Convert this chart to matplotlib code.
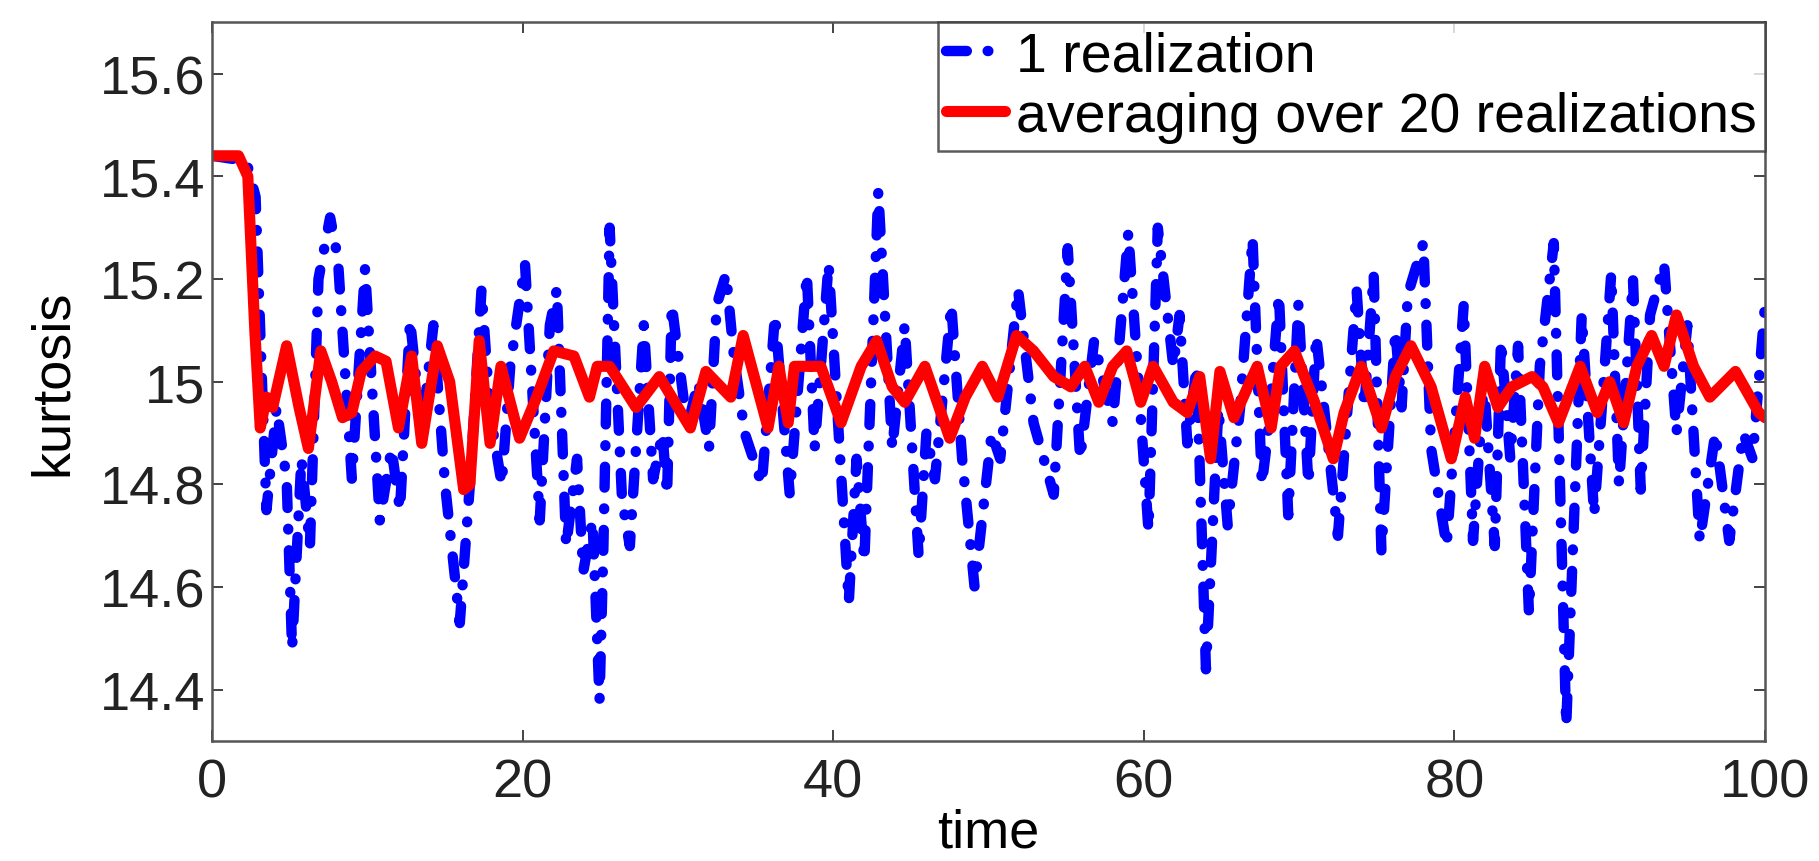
import matplotlib
matplotlib.use("Agg")
import matplotlib.pyplot as plt
from matplotlib.ticker import FormatStrFormatter

plt.rcParams['font.family'] = ['Liberation Sans', 'DejaVu Sans']
plt.rcParams['lines.scale_dashes'] = False

# single realization (peaks and troughs)
blue_t = [0, 2.2, 2.8, 3.5, 4.15, 4.8, 5.15, 5.75, 6.3, 6.85, 7.6, 8.1, 9.0, 9.85,
          10.8, 11.55, 12.1, 12.75, 13.5, 14.25, 15.0, 15.95, 16.6, 17.35, 17.9,
          18.65, 19.2, 20.15, 21.1, 21.75, 22.2, 22.8, 23.5, 23.9, 24.5, 24.95,
          25.2, 25.6, 26.4, 26.9, 27.8, 28.4, 29.0, 29.3, 29.6, 30.6, 31.3, 32.0,
          32.5, 33.1, 33.6, 34.3, 35.4, 36.25, 37.2, 38.3, 38.8, 39.7, 41.0, 41.5,
          42.0, 42.9, 43.8, 44.6, 45.5, 46.0, 46.55, 47.6, 48.3, 49.1, 50.2, 50.75,
          51.9, 52.9, 54.2, 55.1, 55.9, 56.8, 58.0, 59.0, 60.3, 60.9, 61.9, 62.3,
          62.8, 63.4, 64.0, 64.8, 65.4, 66.2, 67.0, 67.6, 68.0, 68.7, 69.3, 69.95,
          70.6, 71.1, 72.5, 73.7, 74.2, 74.8, 75.3, 76.2, 76.6, 77.0, 78.0, 78.5,
          79.5, 80.6, 81.2, 81.9, 82.6, 83.0, 83.6, 84.1, 84.8, 85.5, 86.4, 87.2,
          88.2, 89.0, 90.1, 90.6, 91.5, 92.0, 92.6, 93.5, 94.3, 95.0, 95.8, 96.8,
          97.7, 98.6, 99.2, 100]
blue_v = [15.44, 15.43, 15.36, 14.75, 14.95, 14.81, 14.48, 14.85, 14.68, 15.20, 15.32, 15.24, 14.81, 15.22,
          14.73, 14.87, 14.75, 15.12, 14.90, 15.11, 14.80, 14.53, 14.80, 15.18, 14.94,
          14.80, 15.03, 15.23, 14.73, 15.11, 15.18, 14.68, 14.85, 14.63, 14.73, 14.38,
          14.68, 15.30, 14.77, 14.68, 15.11, 14.81, 14.90, 14.78, 15.15, 14.91, 15.00, 14.87,
          15.15, 15.21, 15.05, 14.90, 14.80, 15.13, 14.78, 15.21, 14.87, 15.23, 14.57, 14.85,
          14.65, 15.37, 14.87, 15.11, 14.66, 14.90, 14.81, 15.15, 14.85, 14.60, 14.90, 14.85,
          15.18, 14.92, 14.78, 15.26, 14.85, 15.08, 14.92, 15.29, 14.71, 15.30, 15.03, 15.13,
          14.88, 15.03, 14.44, 14.95, 14.72, 14.95, 15.28, 14.80, 14.90, 15.17, 14.74, 15.15,
          14.80, 15.09, 14.70, 15.18, 14.95, 15.21, 14.67, 15.10, 14.95, 15.17, 15.27, 14.87,
          14.68, 15.15, 14.69, 15.00, 14.68, 15.08, 14.85, 15.07, 14.55, 15.03, 15.27, 14.33,
          15.13, 14.74, 15.21, 14.80, 15.20, 14.79, 15.13, 15.23, 14.90, 15.11, 14.69, 14.90,
          14.69, 14.90, 14.85, 15.15]

# average over 20 realizations
red_t = [0, 1.7, 2.3, 2.75, 3.1, 3.5, 3.9, 4.8, 5.6, 6.2, 7.0, 7.7, 8.4, 9.0, 9.6,
         10.5, 11.2, 12.0, 12.85, 13.5, 14.5, 15.3, 16.2, 16.6, 17.2, 17.9, 18.6,
         19.8, 20.9, 22.0, 23.3, 24.3, 24.8, 25.6, 27.3, 28.8, 30.8, 31.8, 33.4,
         34.2, 35.8, 36.5, 37.1, 37.5, 39.2, 40.5, 41.8, 42.8, 43.8, 44.6, 45.9,
         47.5, 48.5, 49.6, 50.6, 51.8, 52.9, 54.2, 55.3, 56.2, 57.1, 58.0, 58.9,
         59.8, 60.6, 61.9, 62.8, 63.6, 64.3, 64.9, 65.8, 67.3, 68.2, 68.8, 69.7,
         71.0, 72.2, 72.9, 74.0, 75.3, 76.2, 77.2, 78.5, 79.8, 80.7, 81.3, 81.95,
         82.8, 83.7, 85.0, 85.7, 86.7, 88.1, 89.2, 90.0, 90.9, 91.75, 92.7, 93.5,
         94.3, 95.4, 96.45, 98.1, 99.6, 100]
red_v = [15.44, 15.44, 15.40, 15.10, 14.91, 14.97, 14.95, 15.07, 14.95, 14.87, 15.06, 15.00, 14.93, 14.94, 15.02,
         15.05, 15.04, 14.91, 15.05, 14.88, 15.07, 15.00, 14.79, 14.80, 15.08, 14.88, 15.03,
         14.89, 14.97, 15.06, 15.05, 14.97, 15.03, 15.03, 14.95, 15.01, 14.91, 15.02, 14.97,
         15.09, 14.91, 15.03, 14.92, 15.03, 15.03, 14.92, 15.03, 15.08, 14.99, 14.96, 15.03,
         14.89, 14.97, 15.03, 14.97, 15.09, 15.06, 15.01, 14.99, 15.03, 14.96, 15.03, 15.06,
         14.96, 15.03, 14.96, 14.94, 15.01, 14.85, 15.02, 14.93, 15.03, 14.91, 15.03, 15.06,
         14.96, 14.85, 14.94, 15.03, 14.91, 15.01, 15.07, 14.99, 14.85, 14.97, 14.89, 15.03,
         14.95, 14.99, 15.01, 14.99, 14.92, 15.03, 14.94, 15.00, 14.92, 15.03, 15.09, 15.03,
         15.13, 15.03, 14.97, 15.02, 14.94, 14.93]

yticks = [14.4, 14.6, 14.8, 15.0, 15.2, 15.4, 15.6]
xticks = [0, 20, 40, 60, 80, 100]

fig = plt.figure(figsize=(18.19, 8.62), dpi=100)
ax = fig.add_axes([0.1166, 0.139, 0.8537, 0.834])

ax.plot(blue_t, blue_v, color='#0000ff', lw=7.5, linestyle=(0, (15, 15, 0.5, 15)),
        dash_capstyle='round', label='1 realization')
ax.plot(red_t, red_v, color='#ff0000', lw=8, solid_joinstyle='round',
        solid_capstyle='round', label='averaging over 20 realizations')

ax.set_xlim(0, 100)
ax.set_ylim(14.3, 15.7)
ax.set_xticks(xticks)
ax.set_yticks(yticks)
ax.yaxis.set_major_formatter(FormatStrFormatter('%g'))
ax.tick_params(direction='in', length=8, width=1.2, labelsize=39, top=True, right=True,
               colors='#222222')
ax.tick_params(axis='x', pad=12)
ax.tick_params(axis='y', pad=5)
for s in ax.spines.values():
    s.set_color('#555555')
    s.set_linewidth(1.8)

ax.set_xlabel('time', fontsize=39, labelpad=0)
ax.set_ylabel('kurtosis', fontsize=39, labelpad=16)

leg = ax.legend(loc='upper right', fontsize=40, frameon=True, fancybox=False,
                borderaxespad=0, borderpad=0.15, labelspacing=0.15,
                handlelength=1.05, handletextpad=0.2)
leg.get_frame().set_edgecolor('#333333')
leg.get_frame().set_linewidth(1.8)

plt.savefig('out.png', dpi=100)
